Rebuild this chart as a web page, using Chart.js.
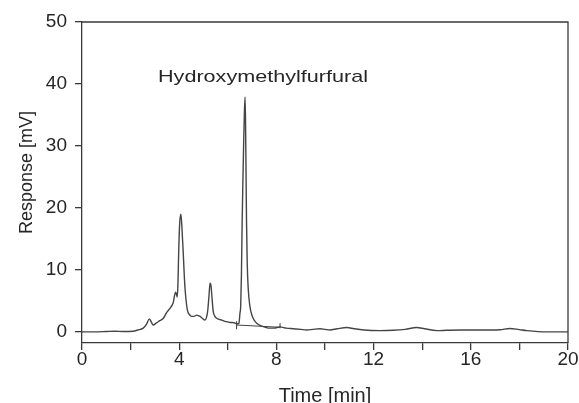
<!DOCTYPE html>
<html>
<head>
<meta charset="utf-8">
<script src="https://cdn.jsdelivr.net/npm/chart.js@4/dist/chart.umd.min.js"></script>
<style>
html,body{margin:0;padding:0;background:#fff;}
canvas{display:block;}
</style>
</head>
<body>
<canvas id="c" width="579" height="403"></canvas>
<script>
// Chromatogram trace (time in min, response in mV)
const times = [0.0,0.5,1.0,1.36,1.7,2.1,2.3,2.52,2.65,2.77,2.85,2.93,3.05,3.2,3.35,3.48,3.62,3.72,3.76,3.80,3.85,3.88,3.92,3.95,3.98,4.02,4.07,4.11,4.17,4.21,4.24,4.30,4.35,4.42,4.51,4.60,4.72,4.80,4.86,4.95,5.06,5.12,5.17,5.22,5.27,5.31,5.35,5.40,5.47,5.54,5.65,5.75,5.88,6.00,6.09,6.20,6.30,6.36,6.42,6.46,6.50,6.53,6.56,6.59,6.62,6.65,6.68,6.71,6.73,6.75,6.77,6.80,6.84,6.91,7.00,7.10,7.19,7.35,7.50,7.67,7.90,8.15,8.40,8.70,9.00,9.25,9.50,9.80,10.0,10.2,10.5,10.9,11.2,11.6,12.26,12.8,13.3,13.77,14.1,14.6,15.0,15.56,16.5,17.2,17.6,18.0,18.3,19.1,20.0];
const response = [0.0,0.0,0.05,0.1,0.05,0.1,0.3,0.6,1.2,2.1,1.6,1.1,1.4,1.8,2.2,3.1,3.8,4.4,4.8,5.7,6.4,6.2,5.6,8.0,13.0,17.5,19.0,17.0,12.4,9.0,7.0,4.5,3.3,2.8,2.5,2.5,2.7,2.6,2.5,2.2,1.9,2.3,3.3,5.5,7.85,7.4,5.5,3.3,2.5,2.2,2.0,1.9,1.7,1.6,1.5,1.5,1.4,1.3,1.3,1.4,3.0,4.1,9.0,17.5,24.0,30.0,35.0,37.9,34.0,26.0,18.0,11.0,7.0,4.1,2.6,1.8,1.4,1.0,0.8,0.6,0.6,0.8,0.6,0.5,0.4,0.3,0.4,0.5,0.4,0.3,0.5,0.7,0.5,0.3,0.2,0.25,0.4,0.7,0.5,0.2,0.25,0.3,0.3,0.35,0.55,0.35,0.2,0.0,0.0];

// Integration baseline under the HMF peak
const baseTimes = [6.36, 8.15];
const baseValues = [1.1, 0.75];

// Integration markers (vertical ticks)
const markerTimes = [6.36, 8.15];
const markerTop = [1.7, 1.4];
const markerBottom = [0.4, 0.6];

// Axis ticks
const xTickValues = [0,2,4,6,8,10,12,14,16,18,20];
const xLabelEvery = 4;
const yTickValues = [0,10,20,30,40,50];

const peakLabel = 'Hydroxymethylfurfural';
const xTitle = 'Time [min]';
const yTitle = 'Response [mV]';

const AX = '#3a3a3a';
const TXT = '#262626';
const LINE = '#454545';
const FONT = "'Liberation Sans', Arial, sans-serif";

const markerData = [];
markerTimes.forEach((t,i)=>{
  markerData.push({x:t,y:markerTop[i]});
  markerData.push({x:t,y:markerBottom[i]});
  markerData.push({x:t,y:null});
});

const framePlugin = {
  id:'frame',
  afterDraw(chart){
    const {ctx, chartArea:a} = chart;
    ctx.save();
    ctx.strokeStyle = AX;
    ctx.lineWidth = 1.3;
    ctx.beginPath();
    ctx.moveTo(a.left, a.top);
    ctx.lineTo(a.right, a.top);
    ctx.lineTo(a.right, a.bottom);
    ctx.stroke();
    // annotation
    ctx.fillStyle = TXT;
    ctx.font = "17px " + FONT;
    ctx.textBaseline = 'alphabetic';
    ctx.textAlign = 'left';
    ctx.translate(158, 82);
    ctx.scale(1.27, 1);
    ctx.fillText(peakLabel, 0, 0);
    ctx.restore();
    // axis titles
    ctx.save();
    ctx.fillStyle = TXT;
    ctx.font = "20px " + FONT;
    ctx.textAlign = 'center';
    ctx.textBaseline = 'alphabetic';
    ctx.fillText(xTitle, (a.left + a.right)/2, 402);
    ctx.restore();
    ctx.save();
    ctx.fillStyle = TXT;
    ctx.font = "18px " + FONT;
    ctx.textAlign = 'center';
    ctx.textBaseline = 'alphabetic';
    ctx.translate(31.5, 172.5);
    ctx.rotate(-Math.PI/2);
    ctx.fillText(yTitle, 0, 0);
    ctx.restore();
  }
};

new Chart(document.getElementById('c'), {
  type: 'line',
  data: {
    datasets: [
      {
        data: times.map((t,i)=>({x:t,y:response[i]})),
        borderColor: LINE,
        borderWidth: 1.4,
        borderJoinStyle: 'round',
        borderCapStyle: 'round',
        pointRadius: 0,
        cubicInterpolationMode: 'monotone',
        fill: false
      },
      {
        data: baseTimes.map((t,i)=>({x:t,y:baseValues[i]})),
        borderColor: LINE,
        borderWidth: 1.1,
        pointRadius: 0,
        tension: 0,
        fill: false
      },
      {
        data: markerData,
        borderColor: LINE,
        borderWidth: 1.1,
        pointRadius: 0,
        spanGaps: false,
        fill: false
      }
    ]
  },
  options: {
    responsive: false,
    animation: false,
    devicePixelRatio: 1,
    layout: { padding: { top: 22, right: 11, left: 0, bottom: 0 } },
    plugins: { legend: { display: false }, tooltip: { enabled: false } },
    scales: {
      x: {
        type: 'linear',
        min: 0, max: 20,
        afterBuildTicks: s => { s.ticks = xTickValues.map(v=>({value:v})); },
        afterFit: s => { s.height = 60; },
        ticks: {
          callback: v => (v % xLabelEvery === 0 ? String(v) : ''),
          font: { size: 19, family: FONT },
          color: TXT,
          padding: -2,
          maxRotation: 0,
          autoSkip: false
        },
        grid: { drawOnChartArea: false, tickLength: 7, color: AX, lineWidth: 1.3 },
        border: { display: true, color: AX, width: 1.3 }
      },
      y: {
        type: 'linear',
        min: -1.8, max: 50,
        afterBuildTicks: s => { s.ticks = yTickValues.map(v=>({value:v})); },
        afterFit: s => { s.width = 82; },
        ticks: {
          font: { size: 19, family: FONT },
          color: TXT,
          padding: 8
        },
        grid: { drawOnChartArea: false, tickLength: 7, color: AX, lineWidth: 1.3 },
        border: { display: true, color: AX, width: 1.3 }
      }
    }
  },
  plugins: [framePlugin]
});
</script>
</body>
</html>
